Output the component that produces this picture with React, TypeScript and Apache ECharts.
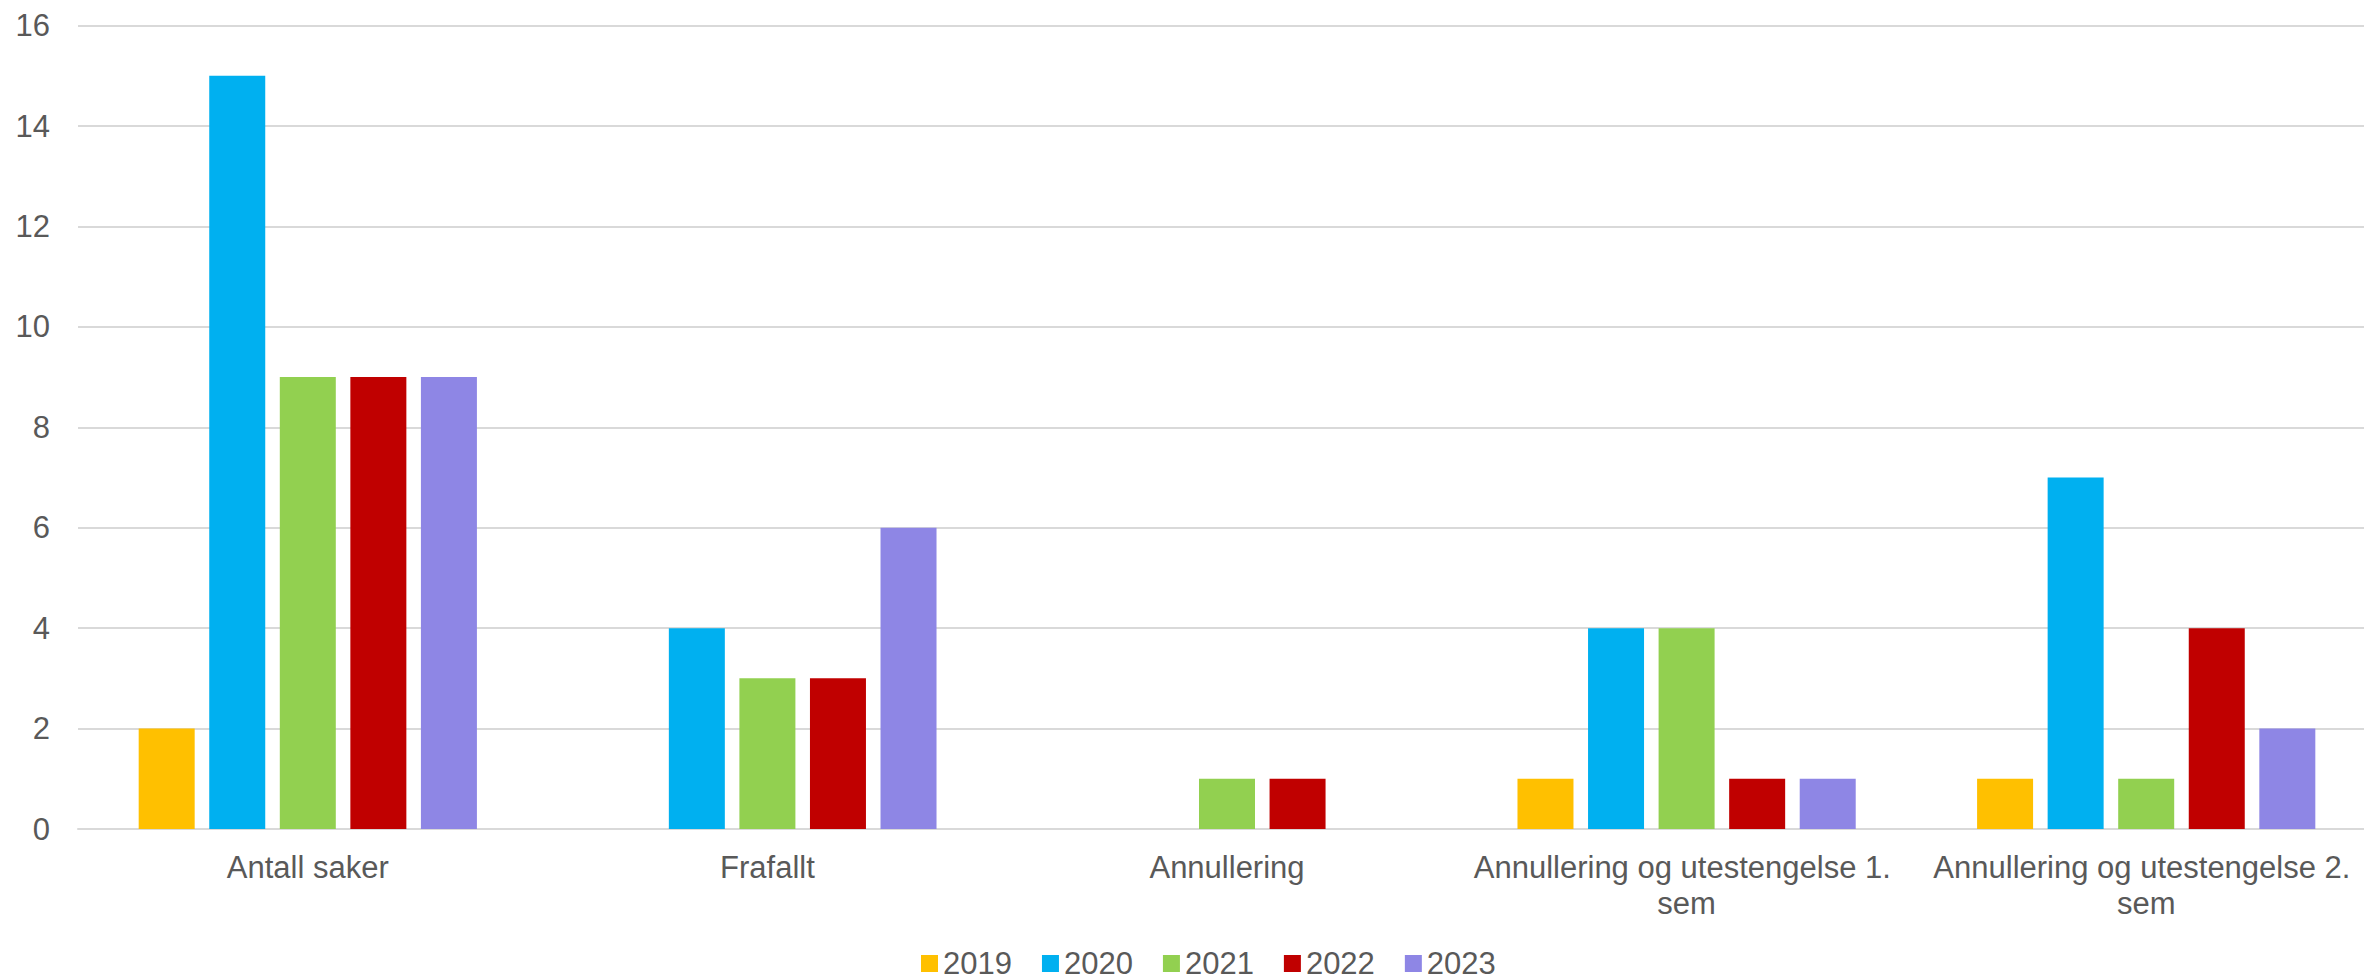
import React, { useEffect, useRef } from "react";
import * as echarts from "echarts";

const categories = [
  "Antall saker",
  "Frafallt",
  "Annullering",
  "Annullering og utestengelse 1. sem",
  "Annullering og utestengelse 2. sem",
];
const years = ["2019", "2020", "2021", "2022", "2023"];
const v2019 = [2, null, null, 1, 1];
const v2020 = [15, 4, null, 4, 7];
const v2021 = [9, 3, 1, 4, 1];
const v2022 = [9, 3, 1, 1, 4];
const v2023 = [9, 6, null, 1, 2];
const yTicks = { min: 0, max: 16, interval: 2 };
const colors = ["#FFC000", "#00B0F0", "#92D050", "#C00000", "#8E86E5"];

const FONT = "'Liberation Sans', Arial, sans-serif";
const TEXT = "#595959";

export default function App() {
  const ref = useRef<HTMLDivElement>(null);
  useEffect(() => {
    if (!ref.current) return;
    const chart = echarts.init(ref.current, undefined, { renderer: "svg" });
    const seriesData = [v2019, v2020, v2021, v2022, v2023];
    chart.setOption({
      animation: false,
      backgroundColor: "#FFFFFF",
      textStyle: { fontFamily: FONT },
      grid: { left: 78, right: 0, top: 25.6, bottom: 151, containLabel: false },
      legend: {
        data: years,
        left: 916,
        top: 943,
        itemWidth: 17,
        itemHeight: 17,
        itemGap: 30,
        icon: "rect",
        textStyle: { fontSize: 31, color: TEXT, fontFamily: FONT },
      },
      xAxis: {
        type: "category",
        data: categories,
        axisLine: { show: true, lineStyle: { color: "#D9D9D9", width: 2 } },
        axisTick: { show: false },
        axisLabel: {
          interval: 0,
          fontSize: 31,
          color: TEXT,
          fontFamily: FONT,
          margin: 20,
          lineHeight: 36,
          width: 440,
          overflow: "break",
        },
      },
      yAxis: {
        type: "value",
        min: yTicks.min,
        max: yTicks.max,
        interval: yTicks.interval,
        axisLine: { show: false },
        axisTick: { show: false },
        axisLabel: { fontSize: 31, color: TEXT, fontFamily: FONT, margin: 28 },
        splitLine: { lineStyle: { color: "#D9D9D9", width: 2 } },
      },
      series: years.map((y, i) => ({
        name: y,
        type: "bar",
        data: seriesData[i],
        barWidth: 56,
        barGap: "26%",
        itemStyle: { color: colors[i] },
      })),
    });
    return () => chart.dispose();
  }, []);
  return (
    <div
      ref={ref}
      style={{ position: "fixed", left: 0, top: 0, width: 2376, height: 980, background: "#fff" }}
    />
  );
}
